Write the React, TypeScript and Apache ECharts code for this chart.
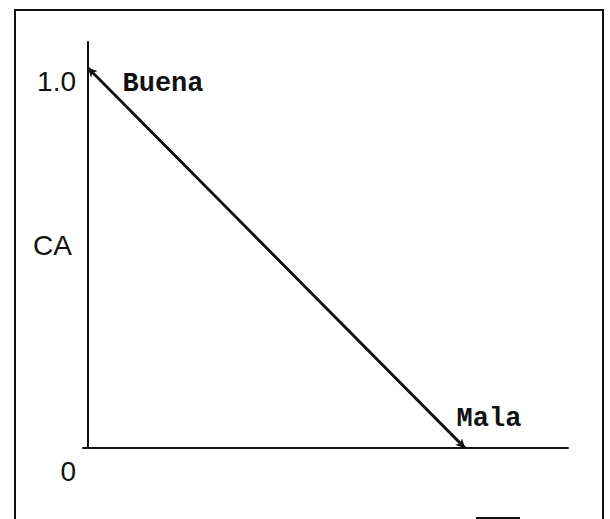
import React, { useEffect, useRef } from "react";
import * as echarts from "echarts";

// Data
const xValues = [0, 1];
const yValues = [1.0, 0];
const pointLabels = ["Buena", "Mala"];
const yTickValues = [0, 1];
const yTickLabels = ["0", "1.0"];
const yAxisName = "CA";

export default function App() {
  const ref = useRef<HTMLDivElement>(null);
  useEffect(() => {
    if (!ref.current) return;
    const chart = echarts.init(ref.current, null, { renderer: "svg" });
    const data = xValues.map((x, i) => ({
      value: [x, yValues[i]],
      label: {
        show: true,
        formatter: pointLabels[i],
        position: i === 0 ? "right" : "top",
        offset: i === 0 ? [29, 16] : [24, -10],
        fontFamily: "'Courier New', 'Liberation Mono', monospace",
        fontWeight: "bold",
        fontSize: 27,
        color: "#111",
      },
    }));
    chart.setOption({
      animation: false,
      backgroundColor: "#fff",
      grid: { left: 83, top: 42, width: 485, height: 406, containLabel: false, outerBoundsMode: "none" },
      xAxis: {
        type: "value",
        min: -0.0133,
        max: 1.2732,
        axisLine: { show: true, onZero: false, lineStyle: { color: "#111", width: 2 } },
        axisTick: { show: false },
        axisLabel: { show: false },
        splitLine: { show: false },
      },
      yAxis: {
        type: "value",
        min: 0,
        max: 1.0684,
        name: yAxisName,
        nameLocation: "middle",
        nameRotate: 0,
        nameGap: 11,
        nameMoveOverlap: false,
        nameTextStyle: { fontFamily: "'Liberation Sans', Arial, sans-serif", fontSize: 28, color: "#111" },
        axisLine: { show: true, onZero: true, lineStyle: { color: "#111", width: 2 } },
        axisTick: { show: false },
        splitLine: { show: false },
        axisLabel: {
          show: true,
          customValues: yTickValues,
          margin: 7,
          verticalAlign: "top",
          formatter: (v: number) => {
            const i = yTickValues.indexOf(v);
            const t = i >= 0 ? yTickLabels[i] : "";
            return v === 0 ? "{z|" + t + "}" : "{o|" + t + "}";
          },
          rich: {
            z: { fontFamily: "'Liberation Sans', Arial, sans-serif", fontSize: 28, color: "#111", padding: [9, 0, 0, 0] },
            o: { fontFamily: "'Liberation Sans', Arial, sans-serif", fontSize: 28, color: "#111", padding: [0, 0, 0, 0] },
          },
        },
      },
      graphic: [
        {
          type: "rect",
          shape: { x: 15, y: 10, width: 588, height: 530 },
          style: { fill: "none", stroke: "#111", lineWidth: 2 },
          silent: true,
        },
        {
          type: "line",
          shape: { x1: 476, y1: 518, x2: 520, y2: 518 },
          style: { stroke: "#111", lineWidth: 2 },
          silent: true,
        },
      ],
      series: [
        {
          type: "line",
          data,
          symbol: "circle",
          symbolSize: 1,
          showSymbol: true,
          itemStyle: { color: "rgba(0,0,0,0)" },
          lineStyle: { color: "#111", width: 2.5 },
          markLine: {
            silent: true,
            symbol: ["arrow", "arrow"],
            symbolSize: [7, 9],
            label: { show: false },
            lineStyle: { color: "#111", width: 2.5, type: "solid" },
            data: [
              [
                { coord: [xValues[0], yValues[0]] },
                { coord: [xValues[1], yValues[1]] },
              ],
            ],
          },
        },
      ],
    });
    return () => chart.dispose();
  }, []);
  return (
    <div
      ref={ref}
      style={{ position: "fixed", left: 0, top: 0, width: 610, height: 519, background: "#fff" }}
    />
  );
}
